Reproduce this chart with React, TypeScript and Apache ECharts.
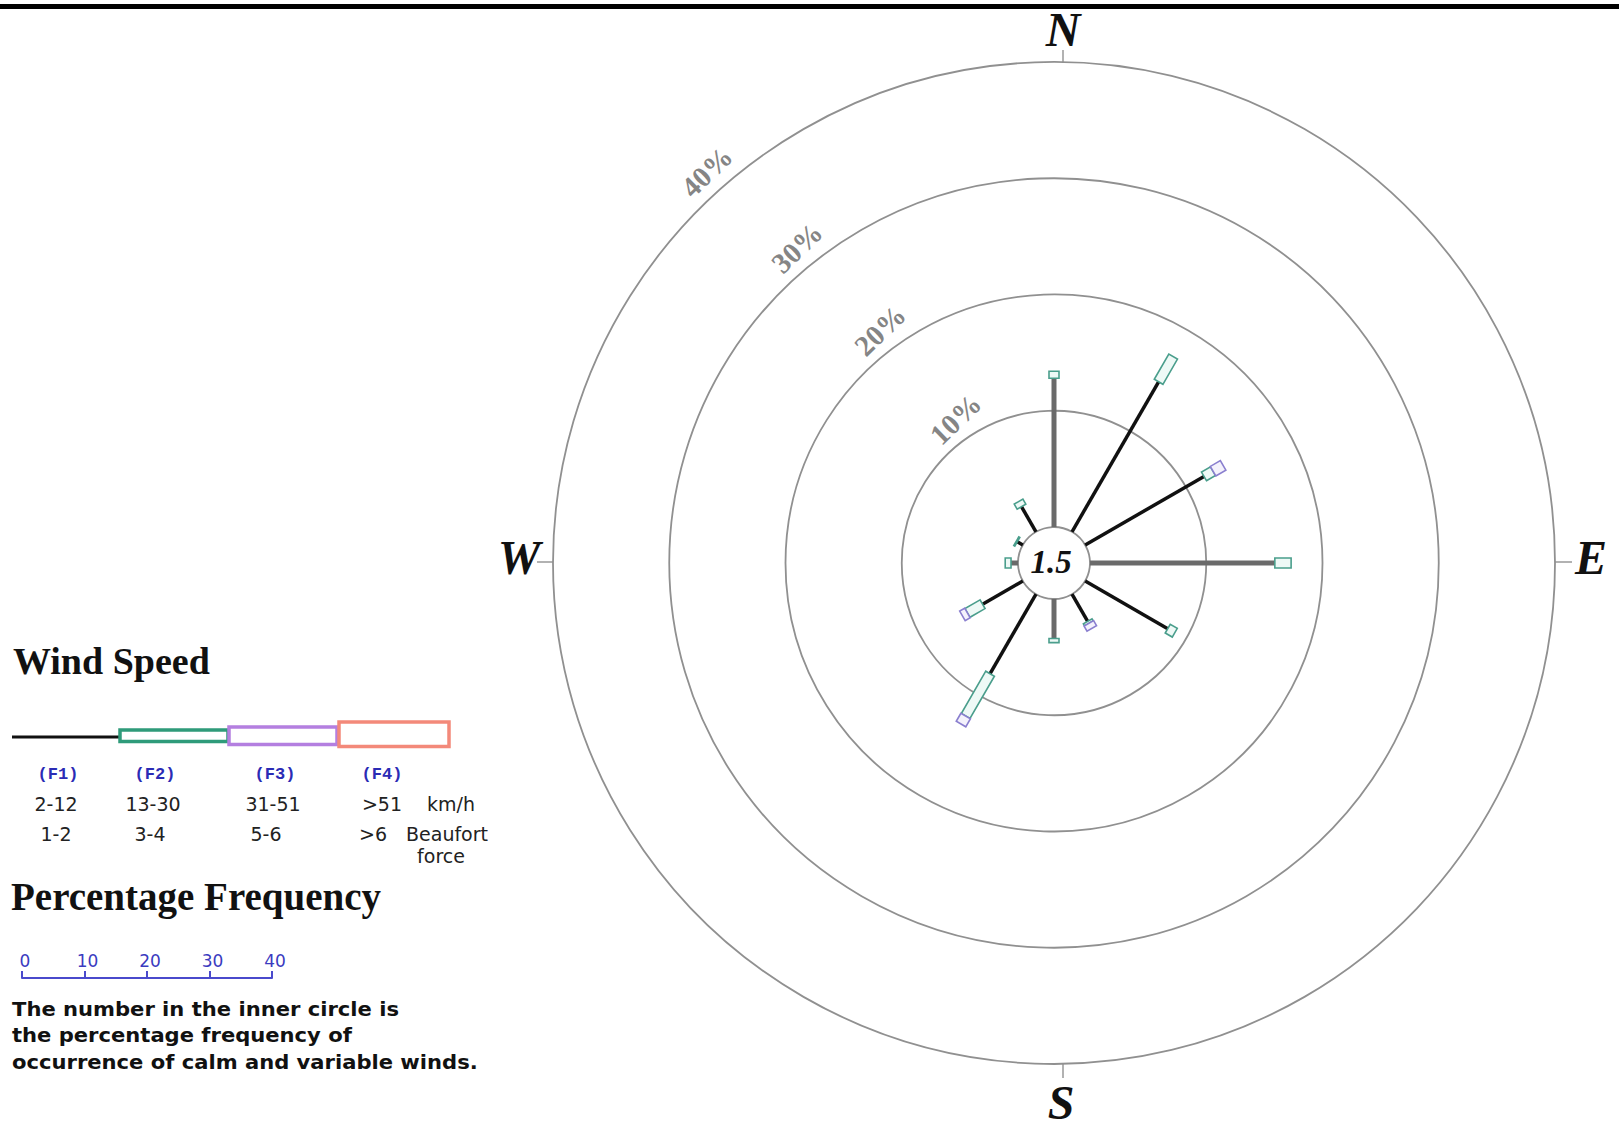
import React, { useEffect, useRef } from "react";
import * as echarts from "echarts";

// ---- data ----
const directions = [0, 30, 60, 90, 120, 150, 180, 210, 240, 270, 300, 330];
const f1Values = [12.8, 14.9, 11.8, 15.9, 8.2, 2.7, 3.4, 7.9, 4.0, 0.6, 0.55, 2.5];
const f2Values = [0.6, 2.5, 0.9, 1.4, 0.7, 0.2, 0.35, 4.2, 1.5, 0.5, 0.1, 0.5];
const f3Values = [0, 0, 1.0, 0, 0, 0.5, 0, 0.8, 0.5, 0, 0, 0];
const f4Values = [0, 0, 0, 0, 0, 0, 0, 0, 0, 0, 0, 0];
const ringValues = [10, 20, 30, 40];
const calmPercent = 1.5;
const compassLabels = ["N", "E", "S", "W"];
const speedClassLabels = ["(F1)", "(F2)", "(F3)", "(F4)"];
const kmhLabels = ["2-12", "13-30", "31-51", ">51"];
const beaufortLabels = ["1-2", "3-4", "5-6", ">6"];
const scaleTicks = [0, 10, 20, 30, 40];
const noteLines = [
  "The number in the inner circle is",
  "the percentage frequency of",
  "occurrence of calm and variable winds.",
];

// ---- styles ----
const CENTER = [1054, 563];
const SERIF = '"Liberation Serif", "Times New Roman", serif';
const SANS = '"DejaVu Sans", Verdana, sans-serif';
const MONO = '"Liberation Mono", "Courier New", monospace';
const segStroke = ["#111111", "#4a9e8c", "#8a7fcf", "#f08a78"];
const segFill = ["", "#eef9f6", "#f4f2fc", "#fff4f2"];
const segWidth = [0, 10, 11, 14];

function txt(x: number, y: number, text: string, s: any) {
  return {
    type: "text",
    x,
    y,
    scaleX: s.scaleX || 1,
    silent: true,
    style: {
      text,
      align: s.align || "center",
      textAlign: s.align || "center",
      verticalAlign: "middle",
      textVerticalAlign: "middle",
      fill: s.fill || "#222",
      fontSize: s.fontSize,
      fontFamily: s.fontFamily,
      fontWeight: s.fontWeight || "normal",
      fontStyle: s.fontStyle || "normal",
    },
  };
}

export default function App() {
  const ref = useRef<HTMLDivElement>(null);

  useEffect(() => {
    if (!ref.current) return;
    const chart = echarts.init(ref.current, undefined, { renderer: "svg" });

    const roseData = directions.map((d, i) => [d, f1Values[i], f2Values[i], f3Values[i], f4Values[i]]);

    const compassPos: Record<string, [number, number]> = {
      N: [1063, 29],
      E: [1591, 557],
      S: [1061, 1102],
      W: [519, 557],
    };

    const legendCenters = [58, 155, 275, 382];
    const kmhCenters = [56, 153, 273, 382];
    const bftCenters = [56, 150, 266, 373];

    const graphic: any[] = [
      { type: "rect", silent: true, shape: { x: 0, y: 4, width: 1619, height: 5 }, style: { fill: "#000" } },
      // compass ticks
      { type: "line", silent: true, shape: { x1: 1063, y1: 50, x2: 1063, y2: 63 }, style: { stroke: "#999", lineWidth: 1.5 } },
      { type: "line", silent: true, shape: { x1: 1063, y1: 1064, x2: 1063, y2: 1078 }, style: { stroke: "#999", lineWidth: 1.5 } },
      { type: "line", silent: true, shape: { x1: 537, y1: 562, x2: 553, y2: 562 }, style: { stroke: "#999", lineWidth: 1.5 } },
      { type: "line", silent: true, shape: { x1: 1555, y1: 562, x2: 1572, y2: 562 }, style: { stroke: "#999", lineWidth: 1.5 } },
      ...compassLabels.map((l) =>
        txt(compassPos[l][0], compassPos[l][1], l, {
          fontSize: 48, fontFamily: SERIF, fontWeight: "bold", fontStyle: "italic", fill: "#111",
        })
      ),
      txt(1051, 562, String(calmPercent), {
        fontSize: 33, fontFamily: SERIF, fontWeight: "bold", fontStyle: "italic", fill: "#111",
      }),
      // legend
      txt(13, 661, "Wind Speed", { align: "left", fontSize: 38, fontFamily: SERIF, fontWeight: "bold", fill: "#111" }),
      { type: "line", silent: true, shape: { x1: 12, y1: 737, x2: 120, y2: 737 }, style: { stroke: "#111", lineWidth: 3 } },
      { type: "rect", silent: true, shape: { x: 120, y: 730, width: 108, height: 11.5 }, style: { fill: "#fff", stroke: "#2f9b7a", lineWidth: 3.5 } },
      { type: "rect", silent: true, shape: { x: 229, y: 727, width: 108, height: 17.5 }, style: { fill: "#fff", stroke: "#b47fe0", lineWidth: 3.5 } },
      { type: "rect", silent: true, shape: { x: 339, y: 722, width: 110, height: 24.5 }, style: { fill: "#fff", stroke: "#f3897a", lineWidth: 3.5 } },
      ...speedClassLabels.map((l, i) =>
        txt(legendCenters[i], 774, l, { fontSize: 17, fontFamily: MONO, fontWeight: "bold", fill: "#2b2bb5" })
      ),
      ...kmhLabels.map((l, i) => txt(kmhCenters[i], 804, l, { fontSize: 19, fontFamily: SANS, fill: "#222" })),
      txt(451, 804, "km/h", { fontSize: 19, fontFamily: SANS, fill: "#222" }),
      ...beaufortLabels.map((l, i) => txt(bftCenters[i], 834, l, { fontSize: 19, fontFamily: SANS, fill: "#222" })),
      txt(447, 834, "Beaufort", { fontSize: 19, fontFamily: SANS, fill: "#222" }),
      txt(441, 856, "force", { fontSize: 19, fontFamily: SANS, fill: "#222" }),
      txt(11, 896, "Percentage Frequency", { align: "left", fontSize: 39, fontFamily: SERIF, fontWeight: "bold", fill: "#111" }),
      ...noteLines.map((l, i) =>
        txt(12, 1009 + i * 26.5, l, { align: "left", fontSize: 19, fontFamily: SANS, fontWeight: "bold", fill: "#111", scaleX: 1.11 })
      ),
    ];

    const option: any = {
      animation: false,
      backgroundColor: "#ffffff",
      polar: { center: CENTER, radius: [36, 501] },
      angleAxis: {
        type: "value",
        min: 0,
        max: 360,
        startAngle: 90,
        clockwise: true,
        axisLine: { show: false },
        axisTick: { show: false },
        axisLabel: { show: false },
        splitLine: { show: false },
      },
      radiusAxis: {
        type: "value",
        min: 0,
        max: 40,
        interval: 10,
        axisLine: { show: false },
        axisTick: { show: false },
        axisLabel: { show: false },
        splitLine: { show: true, lineStyle: { color: "#909090", width: 1.8 } },
      },
      grid: { left: 22, top: 978, width: 250, height: 10 },
      xAxis: {
        type: "value",
        position: "top",
        min: scaleTicks[0],
        max: scaleTicks[scaleTicks.length - 1],
        interval: scaleTicks[1] - scaleTicks[0],
        axisLine: { show: true, onZero: false, lineStyle: { color: "#4a4acc", width: 2 } },
        axisTick: { show: true, length: 7, lineStyle: { color: "#4a4acc", width: 2 } },
        axisLabel: { color: "#3b3bbf", fontSize: 17, fontFamily: SANS, margin: 9, padding: [0, 0, 0, 6] },
        splitLine: { show: false },
      },
      yAxis: { type: "value", show: false },
      series: [
        {
          type: "custom",
          coordinateSystem: "polar",
          silent: true,
          data: roseData,
          encode: { angle: 0, radius: 1 },
          renderItem: (params: any, api: any) => {
            const ang = api.value(0) as number;
            const segs = [api.value(1), api.value(2), api.value(3), api.value(4)] as number[];
            const rad = (ang * Math.PI) / 180;
            const nx = Math.cos(rad);
            const ny = Math.sin(rad);
            const pts: number[][] = [api.coord([0, ang])];
            let acc = 0;
            for (const s of segs) {
              acc += s;
              pts.push(api.coord([acc, ang]));
            }
            const children: any[] = [];
            const axisAligned = ang % 90 === 0;
            if (segs[0] > 0) {
              children.push({
                type: "line",
                shape: { x1: pts[0][0], y1: pts[0][1], x2: pts[1][0], y2: pts[1][1] },
                style: { stroke: axisAligned ? "#6a6a6a" : "#111", lineWidth: axisAligned ? 5 : 3.5 },
              });
            }
            for (let k = 1; k < 4; k++) {
              if (segs[k] <= 0) continue;
              const a = pts[k];
              const b = pts[k + 1];
              const hw = segWidth[k] / 2;
              children.push({
                type: "polygon",
                shape: {
                  points: [
                    [a[0] + nx * hw, a[1] + ny * hw],
                    [b[0] + nx * hw, b[1] + ny * hw],
                    [b[0] - nx * hw, b[1] - ny * hw],
                    [a[0] - nx * hw, a[1] - ny * hw],
                  ],
                },
                style: { fill: segFill[k], stroke: segStroke[k], lineWidth: 1.6 },
              });
            }
            return { type: "group", children };
          },
        },
        {
          type: "custom",
          coordinateSystem: "polar",
          silent: true,
          data: ringValues.map((v) => [v, 0]),
          encode: { radius: 0, angle: 1 },
          renderItem: (params: any, api: any) => {
            const v = api.value(0) as number;
            const theta = 32 + 0.24 * v;
            const p = api.coord([v + 1.9, 360 - theta]);
            return {
              type: "text",
              x: p[0],
              y: p[1],
              rotation: (44 * Math.PI) / 180,
              style: {
                text: v + "%",
                align: "center",
                textAlign: "center",
                verticalAlign: "middle",
                textVerticalAlign: "middle",
                fill: "#858585",
                fontSize: 29,
                fontFamily: SERIF,
                fontWeight: "bold",
              },
            };
          },
        },
      ],
      graphic,
    };
    chart.setOption(option);
    return () => chart.dispose();
  }, []);

  return (
    <div
      ref={ref}
      style={{ position: "absolute", left: 0, top: 0, width: 1619, height: 1128, background: "#fff" }}
    />
  );
}
